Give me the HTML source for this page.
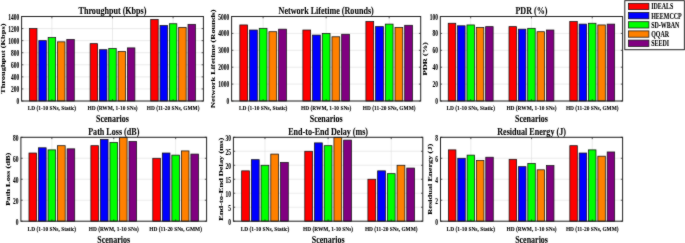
<!DOCTYPE html>
<html><head><meta charset="utf-8"><title>Performance comparison</title>
<style>html,body{margin:0;padding:0;background:#fff}body{width:685px;height:243px;overflow:hidden}svg{display:block}text{stroke:#000;stroke-width:0.08px}</style></head>
<body>
<svg width="685" height="243" viewBox="0 0 685 243" font-family="'Liberation Serif', 'Times New Roman', serif" font-weight="bold" fill="#000">
<defs><filter id="bl" x="0" y="0" width="100%" height="100%" color-interpolation-filters="sRGB"><feConvolveMatrix order="3" kernelMatrix="1 2 1 2 24 2 1 2 1" divisor="36" edgeMode="duplicate" preserveAlpha="true"/></filter></defs>
<rect width="685" height="243" fill="#fff"/>
<g filter="url(#bl)">
<rect x="-5" y="-5" width="695" height="253" fill="#fff"/>
<g>
<path d="M51.90 16.50V101.00M112.50 16.50V101.00M173.10 16.50V101.00M21.60 101.00H203.40M21.60 88.93H203.40M21.60 76.86H203.40M21.60 64.79H203.40M21.60 52.71H203.40M21.60 40.64H203.40M21.60 28.57H203.40M21.60 16.50H203.40" stroke="#dedede" stroke-width="0.6" fill="none"/>
<rect x="29.52" y="28.57" width="7.46" height="72.43" fill="#ff0000" stroke="#111" stroke-width="0.75"/>
<rect x="38.85" y="40.64" width="7.46" height="60.36" fill="#0000ff" stroke="#111" stroke-width="0.75"/>
<rect x="48.17" y="37.62" width="7.46" height="63.38" fill="#00ff00" stroke="#111" stroke-width="0.75"/>
<rect x="57.49" y="41.85" width="7.46" height="59.15" fill="#ff8000" stroke="#111" stroke-width="0.75"/>
<rect x="66.82" y="39.44" width="7.46" height="61.56" fill="#800080" stroke="#111" stroke-width="0.75"/>
<rect x="90.12" y="43.66" width="7.46" height="57.34" fill="#ff0000" stroke="#111" stroke-width="0.75"/>
<rect x="99.45" y="49.70" width="7.46" height="51.30" fill="#0000ff" stroke="#111" stroke-width="0.75"/>
<rect x="108.77" y="48.49" width="7.46" height="52.51" fill="#00ff00" stroke="#111" stroke-width="0.75"/>
<rect x="118.09" y="51.51" width="7.46" height="49.49" fill="#ff8000" stroke="#111" stroke-width="0.75"/>
<rect x="127.42" y="47.89" width="7.46" height="53.11" fill="#800080" stroke="#111" stroke-width="0.75"/>
<rect x="150.72" y="19.52" width="7.46" height="81.48" fill="#ff0000" stroke="#111" stroke-width="0.75"/>
<rect x="160.05" y="25.55" width="7.46" height="75.45" fill="#0000ff" stroke="#111" stroke-width="0.75"/>
<rect x="169.37" y="23.74" width="7.46" height="77.26" fill="#00ff00" stroke="#111" stroke-width="0.75"/>
<rect x="178.69" y="27.36" width="7.46" height="73.64" fill="#ff8000" stroke="#111" stroke-width="0.75"/>
<rect x="188.02" y="24.35" width="7.46" height="76.65" fill="#800080" stroke="#111" stroke-width="0.75"/>
<path d="M51.90 101.00v-1.8M51.90 16.50v1.8M112.50 101.00v-1.8M112.50 16.50v1.8M173.10 101.00v-1.8M173.10 16.50v1.8M21.60 101.00h1.8M203.40 101.00h-1.8M21.60 88.93h1.8M203.40 88.93h-1.8M21.60 76.86h1.8M203.40 76.86h-1.8M21.60 64.79h1.8M203.40 64.79h-1.8M21.60 52.71h1.8M203.40 52.71h-1.8M21.60 40.64h1.8M203.40 40.64h-1.8M21.60 28.57h1.8M203.40 28.57h-1.8M21.60 16.50h1.8M203.40 16.50h-1.8" stroke="#202020" stroke-width="0.7" fill="none"/>
<rect x="21.60" y="16.50" width="181.80" height="84.50" fill="none" stroke="#202020" stroke-width="1.0"/>
<text transform="translate(19.20 104.08) scale(0.76 1)" font-size="7.2" text-anchor="end">0</text>
<text transform="translate(19.20 92.00) scale(0.76 1)" font-size="7.2" text-anchor="end">200</text>
<text transform="translate(19.20 79.93) scale(0.76 1)" font-size="7.2" text-anchor="end">400</text>
<text transform="translate(19.20 67.86) scale(0.76 1)" font-size="7.2" text-anchor="end">600</text>
<text transform="translate(19.20 55.79) scale(0.76 1)" font-size="7.2" text-anchor="end">800</text>
<text transform="translate(19.20 43.72) scale(0.76 1)" font-size="7.2" text-anchor="end">1000</text>
<text transform="translate(19.20 31.65) scale(0.76 1)" font-size="7.2" text-anchor="end">1200</text>
<text transform="translate(19.20 19.58) scale(0.76 1)" font-size="7.2" text-anchor="end">1400</text>
<text transform="translate(51.90 110.10) scale(0.872 1)" font-size="6.2" text-anchor="middle">LD (1-10 SNs, Static)</text>
<text transform="translate(112.50 110.10) scale(0.872 1)" font-size="6.2" text-anchor="middle">HD (RWM, 1-10 SNs)</text>
<text transform="translate(173.10 110.10) scale(0.872 1)" font-size="6.2" text-anchor="middle">HD (11-20 SNs, GMM)</text>
<text transform="translate(112.50 121.90) scale(0.86 1)" font-size="9.3" text-anchor="middle">Scenarios</text>
<text transform="translate(112.50 13.80) scale(0.81 1)" font-size="10" text-anchor="middle">Throughput (Kbps)</text>
<text transform="translate(5.25 58.75) rotate(-90) scale(1 0.78)" font-size="8.4" text-anchor="middle">Throughput (Kbps)</text>
</g>
<g>
<path d="M263.12 16.50V101.00M326.15 16.50V101.00M389.18 16.50V101.00M231.60 101.00H420.70M231.60 84.10H420.70M231.60 67.20H420.70M231.60 50.30H420.70M231.60 33.40H420.70M231.60 16.50H420.70" stroke="#dedede" stroke-width="0.6" fill="none"/>
<rect x="239.84" y="24.95" width="7.76" height="76.05" fill="#ff0000" stroke="#111" stroke-width="0.75"/>
<rect x="249.54" y="30.02" width="7.76" height="70.98" fill="#0000ff" stroke="#111" stroke-width="0.75"/>
<rect x="259.24" y="28.33" width="7.76" height="72.67" fill="#00ff00" stroke="#111" stroke-width="0.75"/>
<rect x="268.94" y="31.71" width="7.76" height="69.29" fill="#ff8000" stroke="#111" stroke-width="0.75"/>
<rect x="278.63" y="29.17" width="7.76" height="71.83" fill="#800080" stroke="#111" stroke-width="0.75"/>
<rect x="302.88" y="30.02" width="7.76" height="70.98" fill="#ff0000" stroke="#111" stroke-width="0.75"/>
<rect x="312.57" y="35.09" width="7.76" height="65.91" fill="#0000ff" stroke="#111" stroke-width="0.75"/>
<rect x="322.27" y="33.40" width="7.76" height="67.60" fill="#00ff00" stroke="#111" stroke-width="0.75"/>
<rect x="331.97" y="36.78" width="7.76" height="64.22" fill="#ff8000" stroke="#111" stroke-width="0.75"/>
<rect x="341.67" y="34.25" width="7.76" height="66.75" fill="#800080" stroke="#111" stroke-width="0.75"/>
<rect x="365.91" y="21.57" width="7.76" height="79.43" fill="#ff0000" stroke="#111" stroke-width="0.75"/>
<rect x="375.61" y="26.64" width="7.76" height="74.36" fill="#0000ff" stroke="#111" stroke-width="0.75"/>
<rect x="385.30" y="24.11" width="7.76" height="76.89" fill="#00ff00" stroke="#111" stroke-width="0.75"/>
<rect x="395.00" y="27.48" width="7.76" height="73.52" fill="#ff8000" stroke="#111" stroke-width="0.75"/>
<rect x="404.70" y="25.29" width="7.76" height="75.71" fill="#800080" stroke="#111" stroke-width="0.75"/>
<path d="M263.12 101.00v-1.8M263.12 16.50v1.8M326.15 101.00v-1.8M326.15 16.50v1.8M389.18 101.00v-1.8M389.18 16.50v1.8M231.60 101.00h1.8M420.70 101.00h-1.8M231.60 84.10h1.8M420.70 84.10h-1.8M231.60 67.20h1.8M420.70 67.20h-1.8M231.60 50.30h1.8M420.70 50.30h-1.8M231.60 33.40h1.8M420.70 33.40h-1.8M231.60 16.50h1.8M420.70 16.50h-1.8" stroke="#202020" stroke-width="0.7" fill="none"/>
<rect x="231.60" y="16.50" width="189.10" height="84.50" fill="none" stroke="#202020" stroke-width="1.0"/>
<text transform="translate(229.20 104.08) scale(0.76 1)" font-size="7.2" text-anchor="end">0</text>
<text transform="translate(229.20 87.18) scale(0.76 1)" font-size="7.2" text-anchor="end">1000</text>
<text transform="translate(229.20 70.28) scale(0.76 1)" font-size="7.2" text-anchor="end">2000</text>
<text transform="translate(229.20 53.38) scale(0.76 1)" font-size="7.2" text-anchor="end">3000</text>
<text transform="translate(229.20 36.48) scale(0.76 1)" font-size="7.2" text-anchor="end">4000</text>
<text transform="translate(229.20 19.58) scale(0.76 1)" font-size="7.2" text-anchor="end">5000</text>
<text transform="translate(263.12 110.10) scale(0.872 1)" font-size="6.2" text-anchor="middle">LD (1-10 SNs, Static)</text>
<text transform="translate(326.15 110.10) scale(0.872 1)" font-size="6.2" text-anchor="middle">HD (RWM, 1-10 SNs)</text>
<text transform="translate(389.18 110.10) scale(0.872 1)" font-size="6.2" text-anchor="middle">HD (11-20 SNs, GMM)</text>
<text transform="translate(326.15 121.90) scale(0.86 1)" font-size="9.3" text-anchor="middle">Scenarios</text>
<text transform="translate(326.15 13.80) scale(0.81 1)" font-size="10" text-anchor="middle">Network Lifetime (Rounds)</text>
<text transform="translate(214.75 58.75) rotate(-90) scale(1 0.78)" font-size="8.4" text-anchor="middle">Network Lifetime (Rounds)</text>
</g>
<g>
<path d="M470.68 16.50V101.00M531.45 16.50V101.00M592.22 16.50V101.00M440.30 101.00H622.60M440.30 84.10H622.60M440.30 67.20H622.60M440.30 50.30H622.60M440.30 33.40H622.60M440.30 16.50H622.60" stroke="#dedede" stroke-width="0.6" fill="none"/>
<rect x="448.25" y="23.26" width="7.48" height="77.74" fill="#ff0000" stroke="#111" stroke-width="0.75"/>
<rect x="457.60" y="25.80" width="7.48" height="75.20" fill="#0000ff" stroke="#111" stroke-width="0.75"/>
<rect x="466.94" y="24.95" width="7.48" height="76.05" fill="#00ff00" stroke="#111" stroke-width="0.75"/>
<rect x="476.29" y="27.48" width="7.48" height="73.52" fill="#ff8000" stroke="#111" stroke-width="0.75"/>
<rect x="485.64" y="26.64" width="7.48" height="74.36" fill="#800080" stroke="#111" stroke-width="0.75"/>
<rect x="509.01" y="26.64" width="7.48" height="74.36" fill="#ff0000" stroke="#111" stroke-width="0.75"/>
<rect x="518.36" y="29.17" width="7.48" height="71.83" fill="#0000ff" stroke="#111" stroke-width="0.75"/>
<rect x="527.71" y="28.33" width="7.48" height="72.67" fill="#00ff00" stroke="#111" stroke-width="0.75"/>
<rect x="537.06" y="31.71" width="7.48" height="69.29" fill="#ff8000" stroke="#111" stroke-width="0.75"/>
<rect x="546.41" y="30.02" width="7.48" height="70.98" fill="#800080" stroke="#111" stroke-width="0.75"/>
<rect x="569.78" y="21.57" width="7.48" height="79.43" fill="#ff0000" stroke="#111" stroke-width="0.75"/>
<rect x="579.13" y="24.11" width="7.48" height="76.89" fill="#0000ff" stroke="#111" stroke-width="0.75"/>
<rect x="588.48" y="23.26" width="7.48" height="77.74" fill="#00ff00" stroke="#111" stroke-width="0.75"/>
<rect x="597.83" y="24.95" width="7.48" height="76.05" fill="#ff8000" stroke="#111" stroke-width="0.75"/>
<rect x="607.17" y="24.11" width="7.48" height="76.89" fill="#800080" stroke="#111" stroke-width="0.75"/>
<path d="M470.68 101.00v-1.8M470.68 16.50v1.8M531.45 101.00v-1.8M531.45 16.50v1.8M592.22 101.00v-1.8M592.22 16.50v1.8M440.30 101.00h1.8M622.60 101.00h-1.8M440.30 84.10h1.8M622.60 84.10h-1.8M440.30 67.20h1.8M622.60 67.20h-1.8M440.30 50.30h1.8M622.60 50.30h-1.8M440.30 33.40h1.8M622.60 33.40h-1.8M440.30 16.50h1.8M622.60 16.50h-1.8" stroke="#202020" stroke-width="0.7" fill="none"/>
<rect x="440.30" y="16.50" width="182.30" height="84.50" fill="none" stroke="#202020" stroke-width="1.0"/>
<text transform="translate(437.90 104.08) scale(0.76 1)" font-size="7.2" text-anchor="end">0</text>
<text transform="translate(437.90 87.18) scale(0.76 1)" font-size="7.2" text-anchor="end">20</text>
<text transform="translate(437.90 70.28) scale(0.76 1)" font-size="7.2" text-anchor="end">40</text>
<text transform="translate(437.90 53.38) scale(0.76 1)" font-size="7.2" text-anchor="end">60</text>
<text transform="translate(437.90 36.48) scale(0.76 1)" font-size="7.2" text-anchor="end">80</text>
<text transform="translate(437.90 19.58) scale(0.76 1)" font-size="7.2" text-anchor="end">100</text>
<text transform="translate(470.68 110.10) scale(0.872 1)" font-size="6.2" text-anchor="middle">LD (1-10 SNs, Static)</text>
<text transform="translate(531.45 110.10) scale(0.872 1)" font-size="6.2" text-anchor="middle">HD (RWM, 1-10 SNs)</text>
<text transform="translate(592.22 110.10) scale(0.872 1)" font-size="6.2" text-anchor="middle">HD (11-20 SNs, GMM)</text>
<text transform="translate(531.45 121.90) scale(0.86 1)" font-size="9.3" text-anchor="middle">Scenarios</text>
<text transform="translate(531.45 13.80) scale(0.81 1)" font-size="10" text-anchor="middle">PDR (%)</text>
<text transform="translate(426.75 58.75) rotate(-90) scale(1 0.78)" font-size="8.4" text-anchor="middle">PDR (%)</text>
</g>
<g>
<path d="M51.85 137.30V221.20M113.75 137.30V221.20M175.65 137.30V221.20M20.90 221.20H206.60M20.90 200.22H206.60M20.90 179.25H206.60M20.90 158.28H206.60M20.90 137.30H206.60" stroke="#dedede" stroke-width="0.6" fill="none"/>
<rect x="28.99" y="153.03" width="7.62" height="68.17" fill="#ff0000" stroke="#111" stroke-width="0.75"/>
<rect x="38.52" y="147.79" width="7.62" height="73.41" fill="#0000ff" stroke="#111" stroke-width="0.75"/>
<rect x="48.04" y="149.88" width="7.62" height="71.31" fill="#00ff00" stroke="#111" stroke-width="0.75"/>
<rect x="57.56" y="145.69" width="7.62" height="75.51" fill="#ff8000" stroke="#111" stroke-width="0.75"/>
<rect x="67.09" y="148.84" width="7.62" height="72.36" fill="#800080" stroke="#111" stroke-width="0.75"/>
<rect x="90.89" y="145.69" width="7.62" height="75.51" fill="#ff0000" stroke="#111" stroke-width="0.75"/>
<rect x="100.42" y="139.40" width="7.62" height="81.80" fill="#0000ff" stroke="#111" stroke-width="0.75"/>
<rect x="109.94" y="142.54" width="7.62" height="78.66" fill="#00ff00" stroke="#111" stroke-width="0.75"/>
<rect x="119.46" y="137.30" width="7.62" height="83.90" fill="#ff8000" stroke="#111" stroke-width="0.75"/>
<rect x="128.99" y="141.50" width="7.62" height="79.70" fill="#800080" stroke="#111" stroke-width="0.75"/>
<rect x="152.79" y="158.28" width="7.62" height="62.92" fill="#ff0000" stroke="#111" stroke-width="0.75"/>
<rect x="162.32" y="153.03" width="7.62" height="68.17" fill="#0000ff" stroke="#111" stroke-width="0.75"/>
<rect x="171.84" y="155.13" width="7.62" height="66.07" fill="#00ff00" stroke="#111" stroke-width="0.75"/>
<rect x="181.36" y="150.93" width="7.62" height="70.27" fill="#ff8000" stroke="#111" stroke-width="0.75"/>
<rect x="190.89" y="154.08" width="7.62" height="67.12" fill="#800080" stroke="#111" stroke-width="0.75"/>
<path d="M51.85 221.20v-1.8M51.85 137.30v1.8M113.75 221.20v-1.8M113.75 137.30v1.8M175.65 221.20v-1.8M175.65 137.30v1.8M20.90 221.20h1.8M206.60 221.20h-1.8M20.90 200.22h1.8M206.60 200.22h-1.8M20.90 179.25h1.8M206.60 179.25h-1.8M20.90 158.28h1.8M206.60 158.28h-1.8M20.90 137.30h1.8M206.60 137.30h-1.8" stroke="#202020" stroke-width="0.7" fill="none"/>
<rect x="20.90" y="137.30" width="185.70" height="83.90" fill="none" stroke="#202020" stroke-width="1.0"/>
<text transform="translate(18.50 224.58) scale(0.76 1)" font-size="7.2" text-anchor="end">0</text>
<text transform="translate(18.50 203.60) scale(0.76 1)" font-size="7.2" text-anchor="end">20</text>
<text transform="translate(18.50 182.63) scale(0.76 1)" font-size="7.2" text-anchor="end">40</text>
<text transform="translate(18.50 161.65) scale(0.76 1)" font-size="7.2" text-anchor="end">60</text>
<text transform="translate(18.50 140.68) scale(0.76 1)" font-size="7.2" text-anchor="end">80</text>
<text transform="translate(51.85 231.20) scale(0.872 1)" font-size="6.2" text-anchor="middle">LD (1-10 SNs, Static)</text>
<text transform="translate(113.75 231.20) scale(0.872 1)" font-size="6.2" text-anchor="middle">HD (RWM, 1-10 SNs)</text>
<text transform="translate(175.65 231.20) scale(0.872 1)" font-size="6.2" text-anchor="middle">HD (11-20 SNs, GMM)</text>
<text transform="translate(113.75 242.70) scale(0.86 1)" font-size="9.3" text-anchor="middle">Scenarios</text>
<text transform="translate(113.75 134.60) scale(0.81 1)" font-size="10" text-anchor="middle">Path Loss (dB)</text>
<text transform="translate(9.65 179.25) rotate(-90) scale(1 0.78)" font-size="8.4" text-anchor="middle">Path Loss (dB)</text>
</g>
<g>
<path d="M264.97 137.30V221.20M328.10 137.30V221.20M391.23 137.30V221.20M233.40 221.20H422.80M233.40 207.22H422.80M233.40 193.23H422.80M233.40 179.25H422.80M233.40 165.27H422.80M233.40 151.28H422.80M233.40 137.30H422.80" stroke="#dedede" stroke-width="0.6" fill="none"/>
<rect x="241.66" y="170.86" width="7.77" height="50.34" fill="#ff0000" stroke="#111" stroke-width="0.75"/>
<rect x="251.37" y="159.67" width="7.77" height="61.53" fill="#0000ff" stroke="#111" stroke-width="0.75"/>
<rect x="261.08" y="165.27" width="7.77" height="55.93" fill="#00ff00" stroke="#111" stroke-width="0.75"/>
<rect x="270.79" y="154.08" width="7.77" height="67.12" fill="#ff8000" stroke="#111" stroke-width="0.75"/>
<rect x="280.51" y="162.47" width="7.77" height="58.73" fill="#800080" stroke="#111" stroke-width="0.75"/>
<rect x="304.79" y="151.28" width="7.77" height="69.92" fill="#ff0000" stroke="#111" stroke-width="0.75"/>
<rect x="314.50" y="142.89" width="7.77" height="78.31" fill="#0000ff" stroke="#111" stroke-width="0.75"/>
<rect x="324.21" y="145.69" width="7.77" height="75.51" fill="#00ff00" stroke="#111" stroke-width="0.75"/>
<rect x="333.93" y="137.30" width="7.77" height="83.90" fill="#ff8000" stroke="#111" stroke-width="0.75"/>
<rect x="343.64" y="140.10" width="7.77" height="81.10" fill="#800080" stroke="#111" stroke-width="0.75"/>
<rect x="367.92" y="179.25" width="7.77" height="41.95" fill="#ff0000" stroke="#111" stroke-width="0.75"/>
<rect x="377.64" y="170.86" width="7.77" height="50.34" fill="#0000ff" stroke="#111" stroke-width="0.75"/>
<rect x="387.35" y="173.66" width="7.77" height="47.54" fill="#00ff00" stroke="#111" stroke-width="0.75"/>
<rect x="397.06" y="165.27" width="7.77" height="55.93" fill="#ff8000" stroke="#111" stroke-width="0.75"/>
<rect x="406.77" y="168.06" width="7.77" height="53.14" fill="#800080" stroke="#111" stroke-width="0.75"/>
<path d="M264.97 221.20v-1.8M264.97 137.30v1.8M328.10 221.20v-1.8M328.10 137.30v1.8M391.23 221.20v-1.8M391.23 137.30v1.8M233.40 221.20h1.8M422.80 221.20h-1.8M233.40 207.22h1.8M422.80 207.22h-1.8M233.40 193.23h1.8M422.80 193.23h-1.8M233.40 179.25h1.8M422.80 179.25h-1.8M233.40 165.27h1.8M422.80 165.27h-1.8M233.40 151.28h1.8M422.80 151.28h-1.8M233.40 137.30h1.8M422.80 137.30h-1.8" stroke="#202020" stroke-width="0.7" fill="none"/>
<rect x="233.40" y="137.30" width="189.40" height="83.90" fill="none" stroke="#202020" stroke-width="1.0"/>
<text transform="translate(231.00 224.58) scale(0.76 1)" font-size="7.2" text-anchor="end">0</text>
<text transform="translate(231.00 210.59) scale(0.76 1)" font-size="7.2" text-anchor="end">5</text>
<text transform="translate(231.00 196.61) scale(0.76 1)" font-size="7.2" text-anchor="end">10</text>
<text transform="translate(231.00 182.63) scale(0.76 1)" font-size="7.2" text-anchor="end">15</text>
<text transform="translate(231.00 168.64) scale(0.76 1)" font-size="7.2" text-anchor="end">20</text>
<text transform="translate(231.00 154.66) scale(0.76 1)" font-size="7.2" text-anchor="end">25</text>
<text transform="translate(231.00 140.68) scale(0.76 1)" font-size="7.2" text-anchor="end">30</text>
<text transform="translate(264.97 231.20) scale(0.872 1)" font-size="6.2" text-anchor="middle">LD (1-10 SNs, Static)</text>
<text transform="translate(328.10 231.20) scale(0.872 1)" font-size="6.2" text-anchor="middle">HD (RWM, 1-10 SNs)</text>
<text transform="translate(391.23 231.20) scale(0.872 1)" font-size="6.2" text-anchor="middle">HD (11-20 SNs, GMM)</text>
<text transform="translate(328.10 242.70) scale(0.86 1)" font-size="9.3" text-anchor="middle">Scenarios</text>
<text transform="translate(328.10 134.60) scale(0.81 1)" font-size="10" text-anchor="middle">End-to-End Delay (ms)</text>
<text transform="translate(222.65 179.25) rotate(-90) scale(1 0.78)" font-size="8.4" text-anchor="middle">End-to-End Delay (ms)</text>
</g>
<g>
<path d="M470.85 137.30V221.20M531.55 137.30V221.20M592.25 137.30V221.20M440.50 221.20H622.60M440.50 200.22H622.60M440.50 179.25H622.60M440.50 158.28H622.60M440.50 137.30H622.60" stroke="#dedede" stroke-width="0.6" fill="none"/>
<rect x="448.44" y="149.88" width="7.47" height="71.31" fill="#ff0000" stroke="#111" stroke-width="0.75"/>
<rect x="457.78" y="158.28" width="7.47" height="62.92" fill="#0000ff" stroke="#111" stroke-width="0.75"/>
<rect x="467.11" y="155.13" width="7.47" height="66.07" fill="#00ff00" stroke="#111" stroke-width="0.75"/>
<rect x="476.45" y="160.37" width="7.47" height="60.83" fill="#ff8000" stroke="#111" stroke-width="0.75"/>
<rect x="485.79" y="157.23" width="7.47" height="63.97" fill="#800080" stroke="#111" stroke-width="0.75"/>
<rect x="509.14" y="159.32" width="7.47" height="61.88" fill="#ff0000" stroke="#111" stroke-width="0.75"/>
<rect x="518.48" y="166.66" width="7.47" height="54.53" fill="#0000ff" stroke="#111" stroke-width="0.75"/>
<rect x="527.81" y="163.52" width="7.47" height="57.68" fill="#00ff00" stroke="#111" stroke-width="0.75"/>
<rect x="537.15" y="169.81" width="7.47" height="51.39" fill="#ff8000" stroke="#111" stroke-width="0.75"/>
<rect x="546.49" y="165.62" width="7.47" height="55.58" fill="#800080" stroke="#111" stroke-width="0.75"/>
<rect x="569.84" y="145.69" width="7.47" height="75.51" fill="#ff0000" stroke="#111" stroke-width="0.75"/>
<rect x="579.18" y="153.03" width="7.47" height="68.17" fill="#0000ff" stroke="#111" stroke-width="0.75"/>
<rect x="588.51" y="149.88" width="7.47" height="71.31" fill="#00ff00" stroke="#111" stroke-width="0.75"/>
<rect x="597.85" y="156.18" width="7.47" height="65.02" fill="#ff8000" stroke="#111" stroke-width="0.75"/>
<rect x="607.19" y="151.98" width="7.47" height="69.22" fill="#800080" stroke="#111" stroke-width="0.75"/>
<path d="M470.85 221.20v-1.8M470.85 137.30v1.8M531.55 221.20v-1.8M531.55 137.30v1.8M592.25 221.20v-1.8M592.25 137.30v1.8M440.50 221.20h1.8M622.60 221.20h-1.8M440.50 200.22h1.8M622.60 200.22h-1.8M440.50 179.25h1.8M622.60 179.25h-1.8M440.50 158.28h1.8M622.60 158.28h-1.8M440.50 137.30h1.8M622.60 137.30h-1.8" stroke="#202020" stroke-width="0.7" fill="none"/>
<rect x="440.50" y="137.30" width="182.10" height="83.90" fill="none" stroke="#202020" stroke-width="1.0"/>
<text transform="translate(438.10 224.58) scale(0.76 1)" font-size="7.2" text-anchor="end">0</text>
<text transform="translate(438.10 203.60) scale(0.76 1)" font-size="7.2" text-anchor="end">2</text>
<text transform="translate(438.10 182.63) scale(0.76 1)" font-size="7.2" text-anchor="end">4</text>
<text transform="translate(438.10 161.65) scale(0.76 1)" font-size="7.2" text-anchor="end">6</text>
<text transform="translate(438.10 140.68) scale(0.76 1)" font-size="7.2" text-anchor="end">8</text>
<text transform="translate(470.85 231.20) scale(0.872 1)" font-size="6.2" text-anchor="middle">LD (1-10 SNs, Static)</text>
<text transform="translate(531.55 231.20) scale(0.872 1)" font-size="6.2" text-anchor="middle">HD (RWM, 1-10 SNs)</text>
<text transform="translate(592.25 231.20) scale(0.872 1)" font-size="6.2" text-anchor="middle">HD (11-20 SNs, GMM)</text>
<text transform="translate(531.55 242.70) scale(0.86 1)" font-size="9.3" text-anchor="middle">Scenarios</text>
<text transform="translate(531.55 134.60) scale(0.81 1)" font-size="10" text-anchor="middle">Residual Energy (J)</text>
<text transform="translate(431.75 179.25) rotate(-90) scale(1 0.78)" font-size="8.4" text-anchor="middle">Residual Energy (J)</text>
</g>
<rect x="624.8" y="0.6" width="59.60" height="49.10" fill="#fff" stroke="#202020" stroke-width="1.0"/>
<rect x="628.5" y="3.30" width="20.4" height="6.3" fill="#ff0000" stroke="#111" stroke-width="0.75"/>
<text transform="translate(651.20 9.45) scale(0.765 1)" font-size="7.8" text-anchor="start">IDEALS</text>
<rect x="628.5" y="12.50" width="20.4" height="6.3" fill="#0000ff" stroke="#111" stroke-width="0.75"/>
<text transform="translate(651.20 18.65) scale(0.765 1)" font-size="7.8" text-anchor="start">HEEMCCP</text>
<rect x="628.5" y="21.70" width="20.4" height="6.3" fill="#00ff00" stroke="#111" stroke-width="0.75"/>
<text transform="translate(651.20 27.85) scale(0.765 1)" font-size="7.8" text-anchor="start">SD-WBAN</text>
<rect x="628.5" y="30.90" width="20.4" height="6.3" fill="#ff8000" stroke="#111" stroke-width="0.75"/>
<text transform="translate(651.20 37.05) scale(0.765 1)" font-size="7.8" text-anchor="start">QQAR</text>
<rect x="628.5" y="40.10" width="20.4" height="6.3" fill="#800080" stroke="#111" stroke-width="0.75"/>
<text transform="translate(651.20 46.25) scale(0.765 1)" font-size="7.8" text-anchor="start">SEEDI</text>
</g>
</svg>
</body></html>
